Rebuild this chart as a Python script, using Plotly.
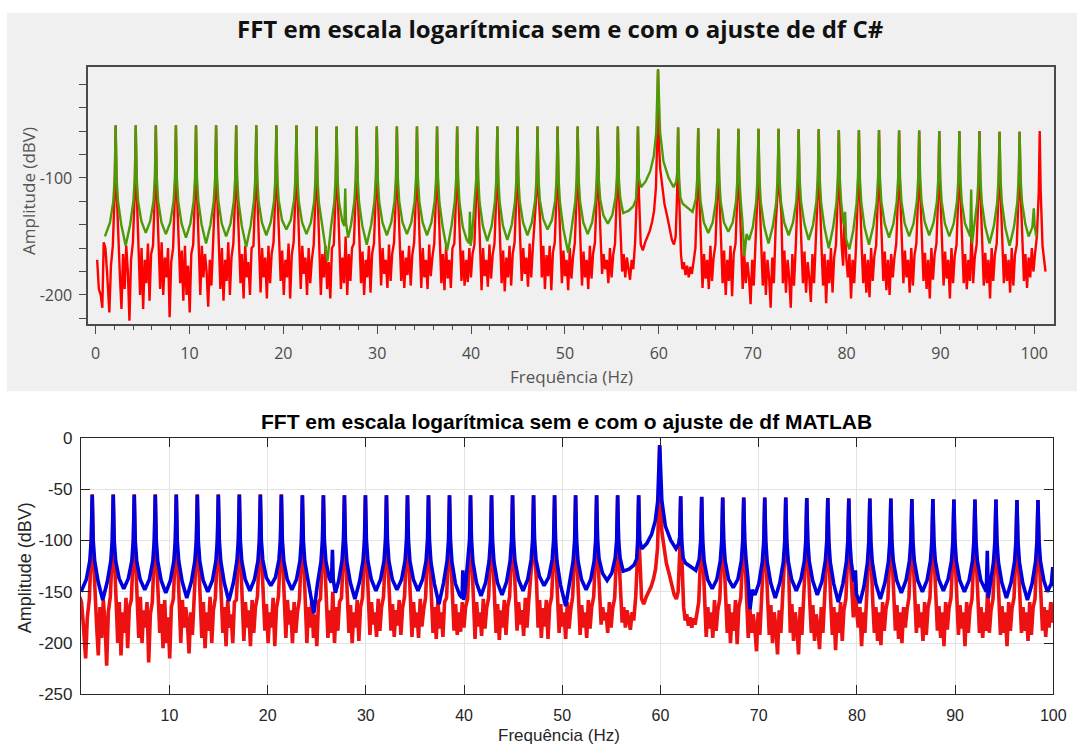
import plotly.graph_objects as go

# ---------------- data ----------------
# Spectrum "com ajuste de df" (green in C#, blue in MATLAB) - frequency (Hz)
adj_hz = [
    1.00,
    1.54, 1.89, 2.04, 2.14, 2.24, 2.39, 2.74, 3.21,
    3.68, 4.03, 4.18, 4.28, 4.38, 4.53, 4.88, 5.35,
    5.82, 6.17, 6.32, 6.42, 6.52, 6.67, 7.02, 7.49,
    7.96, 8.31, 8.46, 8.56, 8.66, 8.81, 9.16, 9.63,
    10.10, 10.45, 10.60, 10.70, 10.80, 10.95, 11.30, 11.77,
    12.24, 12.59, 12.74, 12.84, 12.94, 13.09, 13.44, 13.91,
    14.38, 14.73, 14.88, 14.98, 15.08, 15.23, 15.58, 16.05,
    16.52, 16.87, 17.02, 17.12, 17.22, 17.37, 17.72, 18.19,
    18.66, 19.01, 19.16, 19.26, 19.36, 19.51, 19.86, 20.33,
    20.80, 21.15, 21.30, 21.40, 21.50, 21.65, 22.00, 22.47,
    22.94, 23.29, 23.44, 23.54, 23.64, 23.79, 24.14, 24.70,
    25.08, 25.43, 25.58, 25.68, 25.78, 25.93, 26.28, 26.50, 26.60, 26.68, 26.90,
    27.22, 27.57, 27.72, 27.82, 27.92, 28.07, 28.42, 28.89,
    29.36, 29.71, 29.86, 29.96, 30.06, 30.21, 30.56, 31.03,
    31.50, 31.85, 32.00, 32.10, 32.20, 32.35, 32.70, 33.17,
    33.64, 33.99, 34.14, 34.24, 34.34, 34.49, 34.84, 35.31,
    35.78, 36.13, 36.28, 36.38, 36.48, 36.63, 36.98, 37.45,
    37.92, 38.27, 38.42, 38.52, 38.62, 38.77, 39.12, 39.55, 39.80, 39.88, 39.96, 40.10,
    40.41, 40.56, 40.66, 40.76, 40.91, 41.26, 41.73,
    42.20, 42.55, 42.70, 42.80, 42.90, 43.05, 43.40, 43.87,
    44.34, 44.69, 44.84, 44.94, 45.04, 45.19, 45.54, 46.01,
    46.48, 46.83, 46.98, 47.08, 47.18, 47.33, 47.68, 48.15,
    48.62, 48.97, 49.12, 49.22, 49.32, 49.47, 49.82, 50.35,
    50.76, 51.11, 51.26, 51.36, 51.46, 51.61, 51.96, 52.43,
    52.90, 53.25, 53.40, 53.50, 53.60, 53.75, 54.10, 54.57,
    55.04, 55.39, 55.54, 55.64, 55.74, 55.89, 56.20, 56.80, 57.30,
    57.58, 57.68, 57.78, 57.88, 58.10, 58.60, 59.10, 59.47, 59.72,
    59.92, 60.14, 60.50, 61.05, 61.58,
    61.86, 61.96, 62.06, 62.16, 62.31, 62.55, 63.05, 63.60,
    63.95, 64.10, 64.20, 64.30, 64.45, 64.80, 65.27,
    65.74, 66.09, 66.24, 66.34, 66.44, 66.59, 66.94, 67.41,
    67.88, 68.23, 68.38, 68.48, 68.58, 68.73, 68.90, 69.12, 69.35, 69.62,
    70.02, 70.37, 70.52, 70.62, 70.72, 70.87, 71.22, 71.69,
    72.16, 72.51, 72.66, 72.76, 72.86, 73.01, 73.36, 73.83,
    74.30, 74.65, 74.80, 74.90, 75.00, 75.15, 75.50, 75.97,
    76.44, 76.79, 76.94, 77.04, 77.14, 77.29, 77.64, 78.11,
    78.58, 78.93, 79.08, 79.18, 79.28, 79.43, 79.70, 79.85, 79.95, 80.30,
    80.72, 81.07, 81.22, 81.32, 81.42, 81.57, 81.92, 82.39,
    82.86, 83.21, 83.36, 83.46, 83.56, 83.71, 84.06, 84.53,
    85.00, 85.35, 85.50, 85.60, 85.70, 85.85, 86.20, 86.67,
    87.14, 87.49, 87.64, 87.74, 87.84, 87.99, 88.34, 88.81,
    89.28, 89.63, 89.78, 89.88, 89.98, 90.13, 90.48, 90.95,
    91.42, 91.77, 91.92, 92.02, 92.12, 92.27, 92.62, 93.18, 93.28, 93.38,
    93.56, 93.91, 94.06, 94.16, 94.26, 94.41, 94.76, 95.23,
    95.70, 96.05, 96.20, 96.30, 96.40, 96.55, 96.90, 97.37,
    97.84, 98.19, 98.34, 98.44, 98.54, 98.69, 99.04, 99.40, 99.80, 99.95, 100.05, 100.20,
]
# amplitude (dBV)
adj_db = [
    -150,
    -138, -120, -100, -55.5, -100, -120, -140, -158,
    -140, -120, -100, -55.5, -100, -120, -137, -147,
    -137, -120, -100, -55.5, -100, -120, -138, -148,
    -138, -120, -100, -55.5, -100, -120, -139, -151,
    -139, -120, -100, -55.5, -100, -120, -140, -156,
    -140, -120, -100, -55.5, -100, -120, -139, -150,
    -139, -120, -100, -55.5, -100, -120, -141, -159,
    -141, -120, -100, -55.5, -100, -120, -138, -149,
    -138, -120, -100, -55.5, -100, -119, -136, -144,
    -136, -119, -100, -55.5, -100, -120, -138, -148,
    -138, -120, -100, -56, -100, -121, -142, -171,
    -142, -121, -100, -56, -100, -120, -137, -141, -109, -138, -151,
    -140, -120, -100, -56, -100, -121, -141, -157,
    -140, -120, -100, -56, -100, -120, -138, -149,
    -138, -120, -100, -56, -100, -120, -138, -148,
    -138, -120, -100, -56, -100, -120, -138, -149,
    -138, -120, -100, -56, -100, -121, -142, -162,
    -141, -120, -100, -56, -100, -121, -142, -153, -156, -129, -158, -150,
    -121, -100, -56, -100, -121, -141, -154,
    -141, -120, -100, -56, -100, -121, -141, -153,
    -140, -120, -100, -56, -100, -120, -138, -149,
    -138, -119, -100, -56, -100, -119, -135, -144,
    -136, -119, -100, -56, -100, -121, -143, -164,
    -142, -120, -100, -56, -100, -120, -138, -148,
    -138, -120, -100, -56, -100, -118, -132, -139,
    -132, -117, -100, -56, -100, -117, -130, -128, -124,
    -118, -100, -56, -100, -108, -103, -94, -81, -62,
    -7, -61, -86, -100, -108,
    -103, -96, -57, -100, -117, -122, -125, -129,
    -118, -100, -57.5, -100, -120, -138, -147,
    -138, -120, -100, -58, -100, -120, -138, -146,
    -138, -120, -100, -58, -100, -120, -136, -167, -148, -153,
    -142, -121, -100, -58, -100, -121, -141, -156,
    -141, -121, -100, -58, -100, -120, -138, -149,
    -138, -120, -100, -58.5, -100, -120, -139, -153,
    -140, -120, -100, -58.5, -100, -121, -142, -160,
    -142, -121, -100, -59, -100, -121, -140, -129, -152, -161,
    -145, -122, -100, -59, -100, -121, -142, -157,
    -141, -121, -100, -59, -100, -120, -139, -151,
    -139, -120, -100, -59.5, -100, -120, -139, -150,
    -139, -120, -100, -59.5, -100, -120, -138, -149,
    -138, -120, -100, -60, -100, -120, -139, -150,
    -139, -120, -100, -60, -100, -120, -139, -150, -110, -156,
    -145, -121, -100, -60, -100, -121, -141, -156,
    -141, -121, -100, -60.5, -100, -121, -142, -158,
    -142, -121, -100, -60.5, -100, -120, -139, -150, -142, -126, -141, -150,
]

# Spectrum "sem ajuste de df" (red) - frequency (Hz)
raw_hz = [
    0.17, 0.35, 0.55, 0.72, 0.87, 1.05, 1.22, 1.47, 1.64, 1.84, 2.04,
    2.14, 2.24, 2.44, 2.60, 2.76, 2.93, 3.10, 3.27, 3.44, 3.61, 3.78, 3.98, 4.18,
    4.28, 4.38, 4.58, 4.74, 4.90, 5.07, 5.24, 5.41, 5.58, 5.75, 5.92, 6.12, 6.32,
    6.42, 6.52, 6.72, 6.88, 7.04, 7.21, 7.38, 7.55, 7.72, 7.89, 8.06, 8.26, 8.46,
    8.56, 8.66, 8.86, 9.02, 9.18, 9.35, 9.52, 9.69, 9.86, 10.03, 10.20, 10.40, 10.60,
    10.70, 10.80, 11.00, 11.16, 11.32, 11.49, 11.66, 11.83, 12.00, 12.17, 12.34, 12.54, 12.74,
    12.84, 12.94, 13.14, 13.30, 13.46, 13.63, 13.80, 13.97, 14.14, 14.31, 14.48, 14.68, 14.88,
    14.98, 15.08, 15.28, 15.44, 15.60, 15.77, 15.94, 16.11, 16.28, 16.45, 16.62, 16.82, 17.02,
    17.12, 17.22, 17.42, 17.58, 17.74, 17.91, 18.08, 18.25, 18.42, 18.59, 18.76, 18.96, 19.16,
    19.26, 19.36, 19.56, 19.72, 19.88, 20.05, 20.22, 20.39, 20.56, 20.73, 20.90, 21.10, 21.30,
    21.40, 21.50, 21.70, 21.86, 22.02, 22.19, 22.36, 22.53, 22.70, 22.87, 23.04, 23.24, 23.44,
    23.54, 23.64, 23.84, 24.00, 24.16, 24.33, 24.50, 24.67, 24.84, 25.01, 25.18, 25.38, 25.58,
    25.68, 25.78, 25.98, 26.14, 26.30, 26.47, 26.64, 26.81, 26.98, 27.15, 27.32, 27.52, 27.72,
    27.82, 27.92, 28.12, 28.28, 28.44, 28.61, 28.78, 28.95, 29.12, 29.29, 29.46, 29.66, 29.86,
    29.96, 30.06, 30.26, 30.42, 30.58, 30.75, 30.92, 31.09, 31.26, 31.43, 31.60, 31.80, 32.00,
    32.10, 32.20, 32.40, 32.56, 32.72, 32.89, 33.06, 33.23, 33.40, 33.57, 33.74, 33.94, 34.14,
    34.24, 34.34, 34.54, 34.70, 34.86, 35.03, 35.20, 35.37, 35.54, 35.71, 35.88, 36.08, 36.28,
    36.38, 36.48, 36.68, 36.84, 37.00, 37.17, 37.34, 37.51, 37.68, 37.85, 38.02, 38.22, 38.42,
    38.52, 38.62, 38.82, 38.98, 39.14, 39.31, 39.48, 39.65, 39.82, 39.99, 40.16, 40.36, 40.56,
    40.66, 40.76, 40.96, 41.12, 41.28, 41.45, 41.62, 41.79, 41.96, 42.13, 42.30, 42.50, 42.70,
    42.80, 42.90, 43.10, 43.26, 43.42, 43.59, 43.76, 43.93, 44.10, 44.27, 44.44, 44.64, 44.84,
    44.94, 45.04, 45.24, 45.40, 45.56, 45.73, 45.90, 46.07, 46.24, 46.41, 46.58, 46.78, 46.98,
    47.08, 47.18, 47.38, 47.54, 47.70, 47.87, 48.04, 48.21, 48.38, 48.55, 48.72, 48.92, 49.12,
    49.22, 49.32, 49.52, 49.68, 49.84, 50.01, 50.18, 50.35, 50.52, 50.69, 50.86, 51.06, 51.26,
    51.36, 51.46, 51.66, 51.82, 51.98, 52.15, 52.32, 52.49, 52.66, 52.83, 53.00, 53.20, 53.40,
    53.50, 53.60, 53.80, 53.96, 54.12, 54.29, 54.46, 54.63, 54.80, 54.97, 55.14, 55.34, 55.54,
    55.64, 55.74, 55.94, 56.10, 56.26, 56.43, 56.60, 56.77, 56.94, 57.11, 57.28, 57.48, 57.68,
    57.78, 57.88, 58.08, 58.30, 58.55, 58.80, 59.05, 59.30, 59.50, 59.70, 59.82,
    59.92, 60.02, 60.15, 60.35, 60.60, 60.90, 61.15, 61.40, 61.62, 61.80, 61.96,
    62.06, 62.16, 62.36, 62.52, 62.68, 62.85, 63.02, 63.19, 63.36, 63.53, 63.70, 63.90, 64.10,
    64.20, 64.30, 64.50, 64.66, 64.82, 64.99, 65.16, 65.33, 65.50, 65.67, 65.84, 66.04, 66.24,
    66.34, 66.44, 66.64, 66.80, 66.96, 67.13, 67.30, 67.47, 67.64, 67.81, 67.98, 68.18, 68.38,
    68.48, 68.58, 68.78, 68.94, 69.10, 69.27, 69.44, 69.61, 69.78, 69.95, 70.12, 70.32, 70.52,
    70.62, 70.72, 70.92, 71.08, 71.24, 71.41, 71.58, 71.75, 71.92, 72.09, 72.26, 72.46, 72.66,
    72.76, 72.86, 73.06, 73.22, 73.38, 73.55, 73.72, 73.89, 74.06, 74.23, 74.40, 74.60, 74.80,
    74.90, 75.00, 75.20, 75.36, 75.52, 75.69, 75.86, 76.03, 76.20, 76.37, 76.54, 76.74, 76.94,
    77.04, 77.14, 77.34, 77.50, 77.66, 77.83, 78.00, 78.17, 78.34, 78.51, 78.68, 78.88, 79.08,
    79.18, 79.28, 79.48, 79.64, 79.80, 79.97, 80.14, 80.31, 80.48, 80.65, 80.82, 81.02, 81.22,
    81.32, 81.42, 81.62, 81.78, 81.94, 82.11, 82.28, 82.45, 82.62, 82.79, 82.96, 83.16, 83.36,
    83.46, 83.56, 83.76, 83.92, 84.08, 84.25, 84.42, 84.59, 84.76, 84.93, 85.10, 85.30, 85.50,
    85.60, 85.70, 85.90, 86.06, 86.22, 86.39, 86.56, 86.73, 86.90, 87.07, 87.24, 87.44, 87.64,
    87.74, 87.84, 88.04, 88.20, 88.36, 88.53, 88.70, 88.87, 89.04, 89.21, 89.38, 89.58, 89.78,
    89.88, 89.98, 90.18, 90.34, 90.50, 90.67, 90.84, 91.01, 91.18, 91.35, 91.52, 91.72, 91.92,
    92.02, 92.12, 92.32, 92.48, 92.64, 92.81, 92.98, 93.15, 93.32, 93.49, 93.66, 93.86, 94.06,
    94.16, 94.26, 94.46, 94.62, 94.78, 94.95, 95.12, 95.29, 95.46, 95.63, 95.80, 96.00, 96.20,
    96.30, 96.40, 96.60, 96.76, 96.92, 97.09, 97.26, 97.43, 97.60, 97.77, 97.94, 98.14, 98.34,
    98.44, 98.54, 98.74, 98.90, 99.06, 99.23, 99.40, 99.57, 99.74, 99.91, 100.08, 100.28, 100.48,
    100.58, 100.68, 100.88, 101.05, 101.20,
]
# amplitude (dBV)
raw_db = [
    -170, -195, -200, -211, -155, -160, -180, -215, -175, -158, -112,
    -55, -110, -160, -185, -212, -165, -195, -158, -180, -222, -170, -155, -112,
    -55, -110, -158, -200, -160, -212, -170, -190, -156, -205, -165, -158, -112,
    -55, -110, -160, -195, -155, -200, -168, -185, -160, -219, -172, -160, -112,
    -55, -110, -157, -190, -162, -205, -158, -200, -175, -215, -165, -157, -112,
    -55, -110, -160, -200, -158, -185, -165, -180, -210, -170, -192, -158, -112,
    -55, -110, -158, -195, -160, -205, -170, -188, -155, -200, -168, -156, -112,
    -55, -110, -160, -190, -165, -203, -158, -185, -172, -200, -160, -158, -112,
    -55, -110, -157, -198, -160, -185, -168, -203, -158, -190, -165, -155, -112,
    -55, -110, -158, -188, -162, -200, -170, -185, -156, -203, -166, -155, -112,
    -55, -110, -160, -195, -158, -182, -168, -200, -160, -190, -170, -157, -112,
    -56, -110, -160, -200, -165, -185, -158, -195, -172, -203, -160, -157, -112,
    -56, -110, -160, -195, -168, -190, -150, -200, -165, -188, -160, -156, -112,
    -56, -110, -158, -190, -163, -200, -170, -185, -158, -198, -165, -156, -112,
    -56, -110, -158, -192, -160, -182, -170, -194, -157, -188, -165, -155, -112,
    -56, -110, -157, -188, -162, -194, -168, -183, -158, -192, -166, -155, -112,
    -56, -110, -158, -194, -160, -185, -170, -195, -157, -184, -168, -156, -112,
    -56, -110, -160, -190, -165, -196, -158, -186, -170, -194, -160, -156, -112,
    -56, -110, -158, -188, -162, -192, -170, -189, -160, -185, -165, -157, -112,
    -56, -110, -158, -196, -160, -184, -170, -193, -157, -186, -166, -156, -112,
    -56, -110, -157, -190, -162, -197, -168, -185, -158, -192, -165, -155, -112,
    -56, -110, -155, -188, -160, -182, -168, -193, -156, -185, -160, -140, -112,
    -56, -110, -140, -185, -158, -195, -166, -184, -158, -196, -164, -155, -112,
    -56, -110, -158, -190, -162, -184, -170, -196, -160, -186, -168, -155, -112,
    -56, -110, -157, -192, -163, -185, -170, -195, -158, -186, -165, -155, -112,
    -56, -110, -158, -182, -165, -178, -170, -190, -160, -185, -166, -156, -112,
    -56, -110, -158, -180, -165, -185, -168, -176, -187, -170, -178, -155, -112,
    -56, -112, -157, -162, -155, -150, -145, -137, -128, -108, -70,
    -8, -70, -92, -108, -122, -133, -142, -153, -157, -150, -112,
    -57, -112, -165, -178, -172, -183, -175, -185, -176, -182, -172, -160, -112,
    -57.5, -110, -160, -194, -165, -186, -170, -195, -158, -188, -168, -157, -112,
    -58, -110, -158, -190, -162, -200, -170, -188, -158, -201, -165, -156, -112,
    -58, -110, -160, -195, -165, -190, -172, -185, -208, -170, -192, -157, -112,
    -58, -110, -158, -192, -163, -200, -170, -185, -211, -168, -190, -140, -112,
    -58, -110, -130, -190, -162, -198, -170, -185, -211, -165, -192, -157, -112,
    -58.5, -110, -158, -190, -163, -198, -172, -185, -206, -165, -190, -157, -112,
    -58.5, -110, -160, -192, -165, -207, -170, -190, -160, -198, -168, -157, -112,
    -59, -110, -158, -175, -130, -168, -185, -165, -203, -170, -190, -157, -112,
    -59, -110, -160, -190, -165, -198, -170, -202, -160, -188, -167, -157, -112,
    -59, -110, -158, -188, -163, -196, -170, -200, -165, -185, -168, -156, -112,
    -59.5, -110, -158, -190, -162, -185, -170, -198, -160, -192, -166, -156, -112,
    -59.5, -110, -158, -188, -164, -195, -170, -203, -160, -187, -166, -156, -112,
    -60, -110, -158, -192, -163, -186, -170, -203, -160, -190, -167, -157, -112,
    -60, -110, -158, -190, -165, -195, -170, -188, -145, -190, -168, -157, -112,
    -60, -110, -158, -192, -164, -190, -170, -203, -160, -188, -166, -156, -112,
    -60.5, -110, -158, -190, -165, -188, -170, -198, -160, -192, -166, -157, -112,
    -60.5, -110, -158, -188, -165, -194, -168, -185, -160, -180, -165, -150, -112,
    -60, -110, -158, -170, -180,
]

if len(adj_hz) != len(adj_db) or len(raw_hz) != len(raw_db):
    raise SystemExit(f"length mismatch adj {len(adj_hz)}/{len(adj_db)} raw {len(raw_hz)}/{len(raw_db)}")

top_xticks = [0, 10, 20, 30, 40, 50, 60, 70, 80, 90, 100]
top_yticks = [-100, -200]
top_yminor = [-20, -40, -60, -80, -120, -140, -160, -180, -220]
bot_xticks = [10, 20, 30, 40, 50, 60, 70, 80, 90, 100]
bot_yticks = [-250, -200, -150, -100, -50, 0]

title_top = "FFT em escala logarítmica sem e com o ajuste de df C#"
title_bot = "FFT em escala logarítmica sem e com o ajuste de df MATLAB"
x_label = "Frequência (Hz)"
y_label = "Amplitude (dBV)"

# ---------------- figure ----------------
W, H = 1090, 756


def px_x(p):
    return p / W


def px_y(p):
    return 1 - p / H


fig = go.Figure()

# top (C#) : red underneath, green on top
fig.add_trace(go.Scatter(x=raw_hz, y=raw_db, mode="lines", xaxis="x", yaxis="y",
                         line=dict(color="#ff0000", width=2.4), hoverinfo="skip"))
fig.add_trace(go.Scatter(x=adj_hz, y=adj_db, mode="lines", xaxis="x", yaxis="y",
                         line=dict(color="#4e9a06", width=2.4), hoverinfo="skip"))
# bottom (MATLAB) : red underneath, blue on top
fig.add_trace(go.Scatter(x=raw_hz, y=raw_db, mode="lines", xaxis="x2", yaxis="y2",
                         line=dict(color="#ee1111", width=3.6), hoverinfo="skip"))
fig.add_trace(go.Scatter(x=adj_hz, y=adj_db, mode="lines", xaxis="x2", yaxis="y2",
                         line=dict(color="#0000dd", width=3.6), hoverinfo="skip"))

top_family = "Open Sans, Noto Sans, sans-serif"
bot_family = "Liberation Sans, Arial, sans-serif"
top_font = dict(family=top_family, size=16, color="#4a4a4a")
bot_font = dict(family=bot_family, size=16, color="#262626")
frame_top = "#4a4a4a"
frame_bot = "#262626"

fig.update_layout(
    width=W, height=H, autosize=False,
    margin=dict(l=0, r=0, t=0, b=0),
    paper_bgcolor="white", plot_bgcolor="rgba(0,0,0,0)",
    showlegend=False,
    xaxis=dict(
        domain=[px_x(89.3), px_x(1066.7)], anchor="y", range=[-0.78, 102.1],
        showline=True, mirror=True, linecolor=frame_top, linewidth=1.6,
        showgrid=False, zeroline=False,
        tickmode="array", tickvals=top_xticks, ticktext=[str(v) for v in top_xticks],
        ticks="outside", ticklen=9, tickwidth=1.4, tickcolor=frame_top,
        minor=dict(tickmode="array", tickvals=[v for v in range(2, 102, 2) if v % 10],
                   ticks="outside", ticklen=5, tickwidth=1.4, tickcolor=frame_top, showgrid=False),
        tickfont=top_font, ticklabelstandoff=5,
    ),
    yaxis=dict(
        domain=[px_y(322.7), px_y(60)], anchor="x", range=[-224.5, -5.6],
        showline=True, mirror=True, linecolor=frame_top, linewidth=1.6,
        showgrid=False, zeroline=False,
        tickmode="array", tickvals=top_yticks, ticktext=["-100", "-200"],
        ticks="outside", ticklen=7, tickwidth=1.4, tickcolor=frame_top,
        minor=dict(tickmode="array", tickvals=top_yminor,
                   ticks="outside", ticklen=7, tickwidth=1.4, tickcolor=frame_top, showgrid=False),
        tickfont=top_font, ticklabelstandoff=4,
    ),
    xaxis2=dict(
        domain=[px_x(82), px_x(1066)], anchor="y2", range=[1, 100],
        showline=True, mirror="ticks", linecolor=frame_bot, linewidth=1.2,
        showgrid=True, gridcolor="#e3e3e3", gridwidth=1, zeroline=False,
        tickmode="array", tickvals=bot_xticks, ticktext=[str(v) for v in bot_xticks],
        ticks="inside", ticklen=9, tickwidth=1.2, tickcolor=frame_bot,
        tickfont=bot_font, ticklabelstandoff=6,
    ),
    yaxis2=dict(
        domain=[px_y(703), px_y(440)], anchor="x2", range=[-250, 0],
        showline=True, mirror="ticks", linecolor=frame_bot, linewidth=1.2,
        showgrid=True, gridcolor="#e3e3e3", gridwidth=1, zeroline=False,
        tickmode="array", tickvals=bot_yticks, ticktext=[str(v) for v in bot_yticks],
        ticks="inside", ticklen=9, tickwidth=1.2, tickcolor=frame_bot,
        tickfont=dict(family=bot_family, size=17, color="#262626"),
        ticklabelstandoff=4,
    ),
    shapes=[
        dict(type="rect", xref="paper", yref="paper", x0=px_x(7), x1=1.0,
             y0=px_y(392), y1=px_y(4), fillcolor="#f0f0f0", line=dict(width=0), layer="below"),
    ],
    annotations=[
        dict(text="<b>" + title_top + "</b>", x=px_x(567), y=px_y(20), xref="paper", yref="paper",
             showarrow=False, xanchor="center", yanchor="middle",
             font=dict(family=top_family, size=24, color="#111111")),
        dict(text=x_label, x=px_x(578), y=px_y(377), xref="paper", yref="paper",
             showarrow=False, xanchor="center", yanchor="middle",
             font=dict(family=top_family, size=17, color="#555555")),
        dict(text=y_label, x=px_x(29), y=px_y(187), xref="paper", yref="paper", textangle=-90,
             showarrow=False, xanchor="center", yanchor="middle",
             font=dict(family=top_family, size=17, color="#555555")),
        dict(text="<b>" + title_bot + "</b>", x=px_x(573), y=px_y(423), xref="paper", yref="paper",
             showarrow=False, xanchor="center", yanchor="middle",
             font=dict(family=bot_family, size=21, color="#000000")),
        dict(text=x_label, x=px_x(566), y=px_y(745), xref="paper", yref="paper",
             showarrow=False, xanchor="center", yanchor="middle",
             font=dict(family=bot_family, size=17, color="#262626")),
        dict(text=y_label, x=px_x(25), y=px_y(573), xref="paper", yref="paper", textangle=-90,
             showarrow=False, xanchor="center", yanchor="middle",
             font=dict(family=bot_family, size=18, color="#262626")),
    ],
)

fig.write_html("out.html")
